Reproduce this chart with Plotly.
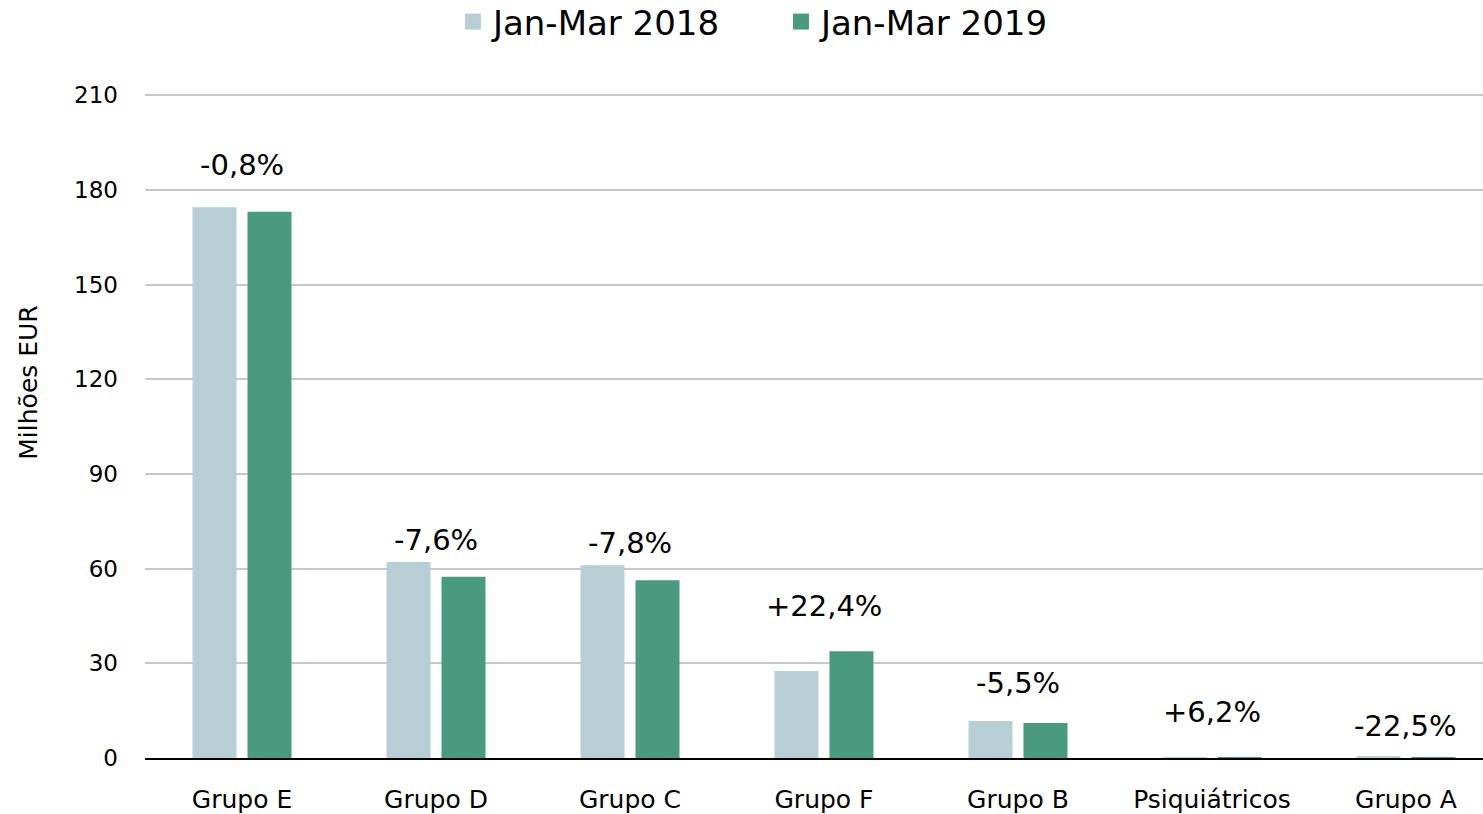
import plotly.graph_objects as go

categories = ["Grupo E", "Grupo D", "Grupo C", "Grupo F", "Grupo B", "Psiquiátricos", "Grupo A"]
values_2018 = [174.5, 62.1, 61.1, 27.6, 11.7, 0.25, 0.40]
values_2019 = [173.1, 57.4, 56.3, 33.8, 11.1, 0.27, 0.31]
series_names = ["Jan-Mar 2018", "Jan-Mar 2019"]
change_labels = ["-0,8%", "-7,6%", "-7,8%", "+22,4%", "-5,5%", "+6,2%", "-22,5%"]
y_ticks = [0, 30, 60, 90, 120, 150, 180, 210]

# pixel offsets of the change labels above the taller bar (styling)
label_shift = [42, 22, 22, 45, 38, 45, 31]
colors = ["#B7CED4", "#4A9A80"]

FONT = "'DejaVu Sans', sans-serif"

fig = go.Figure()
for name, vals, col in zip(series_names, [values_2018, values_2019], colors):
    fig.add_trace(go.Bar(name=name, x=categories, y=vals, showlegend=False,
                         marker=dict(color=col, line=dict(width=0))))
# legend proxies with larger square markers
for name, col in zip(series_names, colors):
    fig.add_trace(go.Scatter(name=name, x=[None], y=[None], mode="markers",
                             marker=dict(symbol="square", size=18, color=col)))

for i, (c, a, b, t) in enumerate(zip(categories, values_2018, values_2019, change_labels)):
    fig.add_annotation(x=c, y=max(a, b), text=t, showarrow=False,
                       yanchor="middle", yshift=label_shift[i],
                       font=dict(family=FONT, size=29, color="#000000"))

fig.add_annotation(text="Milhões EUR", textangle=-90, showarrow=False,
                   xref="paper", yref="paper", x=-0.0867, y=0.5635,
                   xanchor="center", yanchor="middle",
                   font=dict(family=FONT, size=25, color="#000000"))

fig.update_layout(
    width=1483, height=814,
    margin=dict(l=145, r=0, t=92, b=56, autoexpand=False),
    paper_bgcolor="white", plot_bgcolor="white",
    barmode="group", bargap=0.433, bargroupgap=0.2,
    font=dict(family=FONT, color="#000000"),
    showlegend=True,
    legend=dict(orientation="h", x=0.4753, xanchor="center", xref="paper",
                y=0.973, yanchor="middle", yref="container",
                font=dict(family=FONT, size=34, color="#000000"),
                itemwidth=30, entrywidth=283, entrywidthmode="pixels",
                bgcolor="rgba(0,0,0,0)"),
    xaxis=dict(range=[-0.5, 6.397], showline=True, linecolor="#000000", linewidth=2,
               ticks="", tickfont=dict(family=FONT, size=25, color="#000000"),
               ticklabelstandoff=18, showgrid=False, automargin=False),
    yaxis=dict(range=[0, 211], tickvals=y_ticks, showgrid=True,
               gridcolor="#C8C8C8", gridwidth=2, zeroline=False, showline=False,
               tickfont=dict(family=FONT, size=23, color="#000000"),
               ticklabelstandoff=26, automargin=False),
)

fig.write_html("out.html", config={"displayModeBar": False},
               post_script="document.body.style.margin='0';")
